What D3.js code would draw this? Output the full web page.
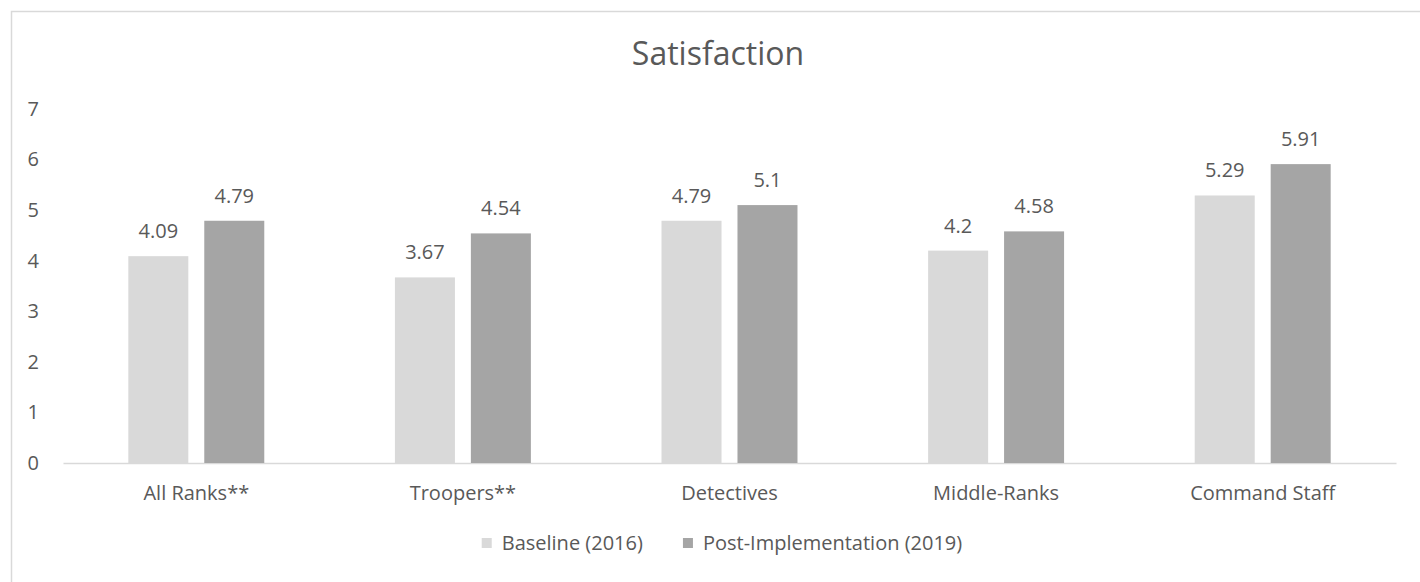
<!DOCTYPE html>
<html>
<head>
<meta charset="utf-8">
<script src="https://cdn.jsdelivr.net/npm/d3@7/dist/d3.min.js"></script>
<style>
  body { margin: 0; background: #fff; }
  text { font-family: "Open Sans", "Noto Sans", sans-serif; fill: #595959; }
</style>
</head>
<body>
<div id="chart-area"></div>
<script>
// data
var categories = ["All Ranks**", "Troopers**", "Detectives", "Middle-Ranks", "Command Staff"];
var seriesNames = ["Baseline (2016)", "Post-Implementation (2019)"];
var baseline = [4.09, 3.67, 4.79, 4.2, 5.29];
var post = [4.79, 4.54, 5.1, 4.58, 5.91];
var yTicks = [0, 1, 2, 3, 4, 5, 6, 7];
var colors = ["#d9d9d9", "#a5a5a5"];

var W = 1420, H = 582;
var margin = { top: 109, right: 24, bottom: 119, left: 63 };
var width = W - margin.left - margin.right;
var height = H - margin.top - margin.bottom;
var fontSize = "20px";

var svg = d3.select("#chart-area").append("svg")
    .attr("width", W)
    .attr("height", H);

// chart border
svg.append("rect")
    .attr("x", 11.5)
    .attr("y", 11.5)
    .attr("width", W)
    .attr("height", H)
    .attr("fill", "none")
    .attr("stroke", "#d9d9d9")
    .attr("stroke-width", 1.5);

svg.append("text")
    .attr("x", 718)
    .attr("y", 65)
    .attr("text-anchor", "middle")
    .attr("font-size", "32px")
    .text("Satisfaction");

var g = svg.append("g")
    .attr("transform", "translate(" + margin.left + ", " + margin.top + ")");

var x0 = d3.scaleBand()
    .domain(categories)
    .range([0, width])
    .paddingInner(0.49)
    .paddingOuter(0.245);

var x1 = d3.scaleBand()
    .domain(seriesNames)
    .range([0, x0.bandwidth()])
    .paddingInner(0.21);

var y = d3.scaleLinear()
    .domain([0, 7])
    .range([height, 0]);

// y tick labels (no axis line, no gridlines)
var yAxisCall = d3.axisLeft(y).tickValues(yTicks).tickFormat(d3.format("d"))
    .tickSize(0).tickPadding(24);
var yAxisGroup = g.append("g").call(yAxisCall);
yAxisGroup.select(".domain").remove();
yAxisGroup.selectAll("text")
    .attr("font-size", fontSize)
    .style("font-family", "'Open Sans', sans-serif")
    .attr("fill", "#595959");

// x axis
var xAxisCall = d3.axisBottom(x0).tickSize(0).tickPadding(23);
var xAxisGroup = g.append("g")
    .attr("transform", "translate(0," + height + ")")
    .call(xAxisCall);
xAxisGroup.select(".domain")
    .attr("stroke", "#d9d9d9")
    .attr("stroke-width", 1.5);
xAxisGroup.selectAll("text")
    .attr("font-size", fontSize)
    .style("font-family", "'Open Sans', sans-serif")
    .attr("fill", "#595959");

var rows = categories.map(function(c, i) {
    return { cat: c, vals: [
        { s: seriesNames[0], v: baseline[i], c: colors[0] },
        { s: seriesNames[1], v: post[i], c: colors[1] }
    ] };
});

var groups = g.selectAll(".grp").data(rows).enter().append("g")
    .attr("class", "grp")
    .attr("transform", function(d) { return "translate(" + x0(d.cat) + ",0)"; });

groups.selectAll("rect").data(function(d) { return d.vals; }).enter().append("rect")
    .attr("x", function(d) { return x1(d.s); })
    .attr("y", function(d) { return y(d.v); })
    .attr("width", x1.bandwidth())
    .attr("height", function(d) { return height - y(d.v); })
    .attr("fill", function(d) { return d.c; });

groups.selectAll(".lbl").data(function(d) { return d.vals; }).enter().append("text")
    .attr("class", "lbl")
    .attr("x", function(d) { return x1(d.s) + x1.bandwidth() / 2; })
    .attr("y", function(d) { return y(d.v) - 18; })
    .attr("text-anchor", "middle")
    .attr("font-size", fontSize)
    .text(function(d) { return d.v; });

// legend, centred under the plot
var legend = svg.append("g");
var items = legend.selectAll(".item").data(seriesNames).enter().append("g")
    .attr("class", "item");
items.append("rect")
    .attr("x", 0)
    .attr("y", -5)
    .attr("width", 10)
    .attr("height", 10)
    .attr("fill", function(d, i) { return colors[i]; });
items.append("text")
    .attr("x", 20)
    .attr("y", 0)
    .attr("dy", "0.35em")
    .attr("font-size", fontSize)
    .text(function(d) { return d; });
var offset = 0;
items.each(function() {
    var w = this.getBBox().width;
    d3.select(this).attr("transform", "translate(" + offset + ",0)");
    offset += w + 40;
});
var legendWidth = offset - 40;
legend.attr("transform", "translate(" + (722 - legendWidth / 2) + ", 543)");
</script>
</body>
</html>
